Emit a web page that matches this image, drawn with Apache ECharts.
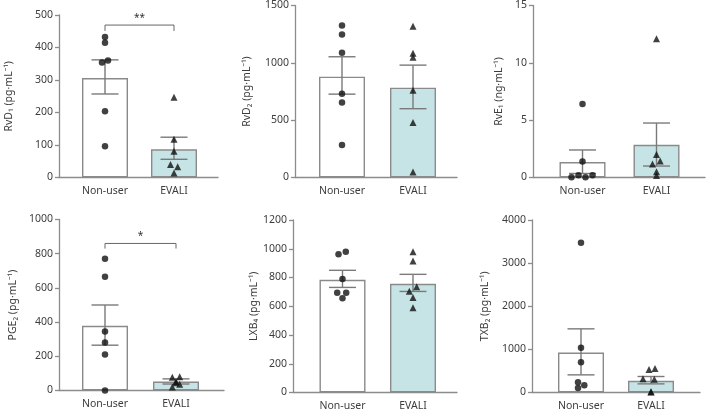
<!DOCTYPE html>
<html><head><meta charset="utf-8">
<script src="https://cdn.jsdelivr.net/npm/echarts@6/dist/echarts.min.js"></script>
<style>html,body{margin:0;padding:0;background:#fff}#c{width:707px;height:413px}</style>
</head><body><div id="c"></div>
<script>
// ---- data ----
const categories = ['Non-user', 'EVALI'];
const yNames = ['RvD\u2081 (pg\u00b7mL\u207b\u00b9)', 'RvD\u2082 (pg\u00b7mL\u207b\u00b9)', 'RvE\u2081 (ng\u00b7mL\u207b\u00b9)',
                'PGE\u2082 (pg\u00b7mL\u207b\u00b9)', 'LXB\u2084 (pg\u00b7mL\u207b\u00b9)', 'TXB\u2082 (pg\u00b7mL\u207b\u00b9)'];
const yMax = [500, 1500, 15, 1000, 1200, 4000];
const yStep = [100, 500, 5, 200, 200, 1000];
const meanNonUser = [306, 879, 1.35, 378, 784, 928];
const meanEvali = [87, 783, 2.85, 52, 756, 270];
const semNonUser = [[257, 362], [727, 1053], [0.35, 2.4], [265, 500], [731, 850], [409, 1476]];
const semEvali = [[56, 124], [600, 980], [1.0, 4.75], [38, 68], [703, 822], [200, 371]];
const pointsNonUser = [
  [432, 415, 354, 360, 204, 96],
  [1325, 1247, 1088, 731, 653, 284],
  [6.4, 1.4, 0.02, 0.2, 0.03, 0.2],
  [770, 665, 345, 280, 210, 0],
  [961, 979, 789, 694, 694, 655],
  [3473, 1035, 703, 239, 169, 107]
];
const pointsEvali = [
  [247, 118, 81, 40, 33, 14],
  [1319, 1084, 1049, 760, 479, 49],
  [12.1, 2.0, 1.17, 1.43, 0.5, 0.17],
  [78, 80, 36, 21, 45, 52],
  [979, 914, 735, 705, 661, 589],
  [535, 557, 320, 310, 15, 10]
];
const significance = ['**', '', '', '*', '', ''];

// ---- layout (pixels) ----
const layout = [
  {L: 59, R: 218, T: 15, B: 177.5, c0: 105, c1: 174, gap: 44},
  {L: 295, R: 457, T: 5, B: 177.5, c0: 342, c1: 413, gap: 42},
  {L: 533, R: 705, T: 5, B: 177.5, c0: 582.5, c1: 656.5, gap: 28},
  {L: 59, R: 224, T: 219.5, B: 390.5, c0: 105, c1: 176, gap: 40},
  {L: 293, R: 457, T: 220, B: 392.5, c0: 342.5, c1: 413, gap: 30},
  {L: 532, R: 700, T: 220, B: 392.5, c0: 581, c1: 651, gap: 41}
];
const jitterNU = [
  [0, 0, -3, 3, 0, 0], [0, 0, 0, 0, 0, 0], [0, 0, -11, -4, 3, 10],
  [0, 0, 0, 0, 0, 0], [-4, 3.3, 0, -5.3, 3.7, 0], [0, 0, 0, -3, 3.3, -3]
];
const jitterEV = [
  [0, 0, 0, -3.5, 3.7, 0], [0, 0, 0, 0, 0, 0], [0, 0, -4, 3.7, 0, 0],
  [-3.7, 3.7, 3.7, -3.7, 0, 0], [0, 0, 3.7, -3.7, 0, 0], [-2, 4, -8, 3.3, 0, 0]
];
const bracketY = [[469, 451], null, null, [860, 830], null, null];

const FONT = '"Noto Sans", sans-serif';
const AXIS_COLOR = '#8c8c8c';
const TEXT_COLOR = '#3d3d3d';
const TEAL = '#c6e4e6';
const BAR_BORDER = '#8a8a8a';

const grids = [], xAxes = [], yAxes = [], series = [];
layout.forEach((g, i) => {
  const unit = g.c1 - g.c0;
  grids.push({left: g.L, top: g.T, width: g.R - g.L, height: g.B - g.T});
  xAxes.push({
    type: 'value', gridIndex: i,
    min: -(g.c0 - g.L) / unit, max: 1 + (g.R - g.c1) / unit,
    splitLine: {show: false},
    axisLine: {show: true, onZero: false, lineStyle: {color: AXIS_COLOR, width: 1.3}},
    axisTick: {show: false},
    axisLabel: {
      customValues: [0, 1],
      formatter: v => categories[Math.round(v)] || '',
      color: TEXT_COLOR, fontFamily: FONT, fontSize: 10.5, margin: 8
    }
  });
  yAxes.push({
    type: 'value', gridIndex: i, min: 0, max: yMax[i], interval: yStep[i],
    name: yNames[i], nameLocation: 'middle', nameGap: g.gap, nameRotate: 90,
    nameTextStyle: {color: TEXT_COLOR, fontFamily: FONT, fontSize: 10.5},
    splitLine: {show: false},
    axisLine: {show: true, onZero: false, lineStyle: {color: AXIS_COLOR, width: 1.3}},
    axisTick: {show: true, length: 4, lineStyle: {color: AXIS_COLOR, width: 1.3}},
    axisLabel: {color: TEXT_COLOR, fontFamily: FONT, fontSize: 10.5, margin: 6, formatter: v => String(v)}
  });
  series.push({
    type: 'bar', xAxisIndex: i, yAxisIndex: i, barWidth: 46, z: 1,
    data: [
      {value: [0, meanNonUser[i]], itemStyle: {color: '#ffffff'}},
      {value: [1, meanEvali[i]], itemStyle: {color: TEAL}}
    ],
    itemStyle: {borderColor: BAR_BORDER, borderWidth: 1.4}
  });
  series.push({
    type: 'custom', xAxisIndex: i, yAxisIndex: i, z: 3,
    data: [[0, semNonUser[i][0], semNonUser[i][1]], [1, semEvali[i][0], semEvali[i][1]]],
    renderItem: (params, api) => {
      const x = api.value(0);
      const lo = api.coord([x, api.value(1)]);
      const hi = api.coord([x, api.value(2)]);
      const w = 13.5;
      const st = {stroke: '#7a7a7a', lineWidth: 1.4};
      return {type: 'group', children: [
        {type: 'line', shape: {x1: lo[0], y1: lo[1], x2: hi[0], y2: hi[1]}, style: st},
        {type: 'line', shape: {x1: lo[0] - w, y1: lo[1], x2: lo[0] + w, y2: lo[1]}, style: st},
        {type: 'line', shape: {x1: hi[0] - w, y1: hi[1], x2: hi[0] + w, y2: hi[1]}, style: st}
      ]};
    }
  });
  series.push({
    type: 'scatter', xAxisIndex: i, yAxisIndex: i, z: 4, symbol: 'circle', symbolSize: 6.5,
    itemStyle: {color: '#111'},
    data: pointsNonUser[i].map((v, k) => [0 + jitterNU[i][k] / unit, v])
  });
  series.push({
    type: 'scatter', xAxisIndex: i, yAxisIndex: i, z: 4, symbol: 'triangle', symbolSize: 7,
    itemStyle: {color: '#111'},
    data: pointsEvali[i].map((v, k) => [1 + jitterEV[i][k] / unit, v])
  });
  if (bracketY[i]) {
    series.push({
      type: 'custom', xAxisIndex: i, yAxisIndex: i, z: 5,
      data: [[0, 1, bracketY[i][0], bracketY[i][1]]],
      renderItem: (params, api) => {
        const a = api.coord([api.value(0), api.value(2)]);
        const b = api.coord([api.value(1), api.value(2)]);
        const aL = api.coord([api.value(0), api.value(3)]);
        const st = {stroke: '#666', lineWidth: 1};
        return {type: 'group', children: [
          {type: 'polyline', shape: {points: [[a[0], aL[1]], a, b, [b[0], aL[1]]]}, style: Object.assign({fill: null}, st)},
          {type: 'text', style: {text: significance[i], x: (a[0] + b[0]) / 2, y: a[1] - 2,
            align: 'center', verticalAlign: 'bottom', fill: '#333', font: '10px "Noto Sans", sans-serif'}}
        ]};
      }
    });
  }
});

const chart = echarts.init(document.getElementById('c'), null, {renderer: 'canvas'});
chart.setOption({animation: false, grid: grids, xAxis: xAxes, yAxis: yAxes, series: series});
</script></body></html>
